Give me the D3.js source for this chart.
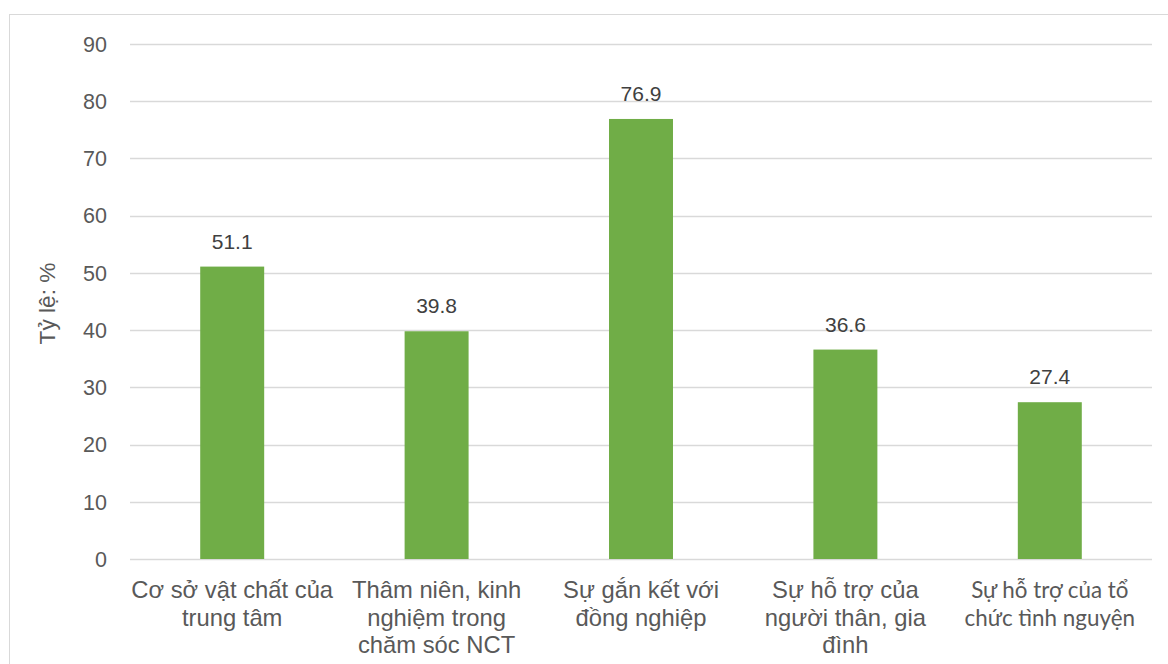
<!DOCTYPE html>
<html><head><meta charset="utf-8">
<script src="https://cdn.jsdelivr.net/npm/d3@7"></script>
<style>body{margin:0;background:#fff}svg{display:block}</style>
</head><body>
<script>
const categories = [
  ["Cơ sở vật chất của", "trung tâm"],
  ["Thâm niên, kinh", "nghiệm trong", "chăm sóc NCT"],
  ["Sự gắn kết với", "đồng nghiệp"],
  ["Sự hỗ trợ của", "người thân, gia", "đình"],
  ["Sự hỗ trợ của tổ", "chức tình nguyện"]
];
const values = [51.1, 39.8, 76.9, 36.6, 27.4];
const yTicks = [0, 10, 20, 30, 40, 50, 60, 70, 80, 90];
const yTitle = "Tỷ lệ: %";

(function () {
const W = 1168, H = 664;
const svg = d3.select("body").append("svg").attr("width", W).attr("height", H);
svg.append("rect").attr("x", 9.5).attr("y", 14.5).attr("width", W + 10).attr("height", H + 10)
  .attr("fill", "#fff").attr("stroke", "#d9d9d9").attr("stroke-width", 1);

const pL = 130, pR = 1152, pT = 44, pB = 559;
const x = d3.scaleBand().domain(d3.range(values.length)).range([pL, pR]).paddingInner(0.687).paddingOuter(0.3435);
const y = d3.scaleLinear().domain([0, 90]).range([pB, pT]);
const textColor = "#595959";

svg.append("g").selectAll("line").data(yTicks).join("line")
  .attr("x1", pL).attr("x2", pR)
  .attr("y1", d => Math.round(y(d)) + 0.5).attr("y2", d => Math.round(y(d)) + 0.5)
  .attr("stroke", "#d9d9d9").attr("stroke-width", 1.5);

svg.append("g").selectAll("text").data(yTicks).join("text")
  .attr("x", 107).attr("y", d => y(d)).attr("dy", "0.36em")
  .attr("text-anchor", "end").attr("fill", textColor)
  .style("font", "21.5px 'Liberation Sans', Arial, sans-serif").text(d => d);

svg.append("g").selectAll("rect").data(values).join("rect")
  .attr("x", (d, i) => x(i)).attr("width", x.bandwidth())
  .attr("y", d => y(d)).attr("height", d => y(0) - y(d))
  .attr("fill", "#70ad47");

svg.append("g").selectAll("text").data(values).join("text")
  .attr("x", (d, i) => x(i) + x.bandwidth() / 2).attr("y", d => y(d) - 18)
  .attr("text-anchor", "middle").attr("fill", "#404040")
  .style("font", "21px 'Liberation Sans', Arial, sans-serif").text(d => d.toFixed(1));

const cat = svg.append("g").selectAll("text").data(categories).join("text")
  .attr("x", (d, i) => x(i) + x.bandwidth() / 2).attr("y", 598)
  .attr("text-anchor", "middle").attr("fill", textColor)
  .style("font", (d, i) => i === 4 ? "22.4px Lato, 'Open Sans', sans-serif" : "23.8px 'Liberation Sans', Arial, sans-serif");
cat.selectAll("tspan").data(d => d).join("tspan")
  .attr("x", function() { return d3.select(this.parentNode).attr("x"); })
  .attr("dy", (d, j) => j === 0 ? 0 : 27.5).text(d => d);

svg.append("text").attr("transform", `translate(55,${(pT + pB) / 2 + 2}) rotate(-90)`)
  .attr("text-anchor", "middle").attr("fill", textColor)
  .style("font", "22.7px 'Liberation Sans', Arial, sans-serif").text(yTitle);
})();
</script>
</body></html>
